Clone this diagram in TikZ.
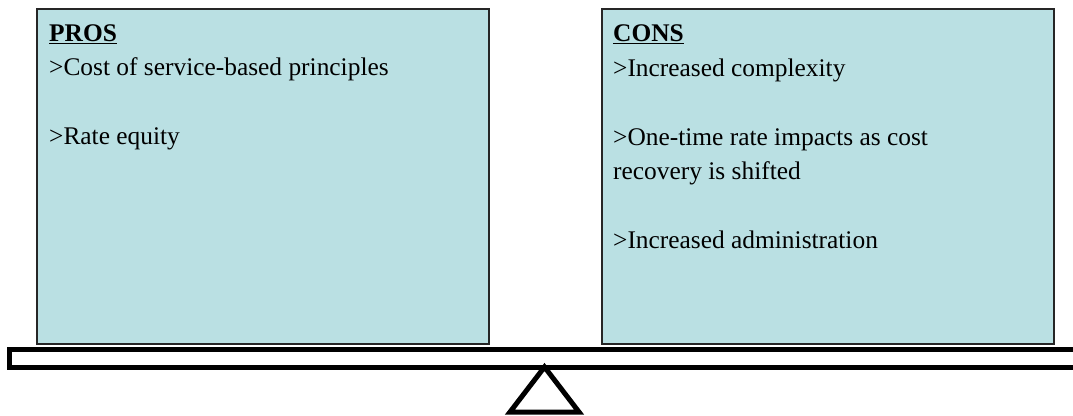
\documentclass[tikz,border=0pt]{standalone}
\usepackage{fontspec}
\setmainfont{Liberation Serif}
\usepackage{xcolor}
\usepackage{tikz}
\usetikzlibrary{calc,positioning}
\definecolor{boxblue}{RGB}{186,224,227}
\tikzset{
  listbox/.style={draw=black!85,line width=2pt,fill=boxblue,minimum width=452pt,minimum height=335pt,anchor=north west,inner sep=0pt},
  listtext/.style={anchor=base west,align=left,inner sep=0pt,font=\fontsize{25.4}{34.5}\selectfont},
  plank/.style={line width=5pt,draw=black,fill=white},
}
\begin{document}
\begin{tikzpicture}[x=1pt,y=1pt]
		\useasboundingbox (0,0) rectangle (1073,415);
		\node[listbox] (pros) at (36,407) {};
		\node[listbox] (cons) at (601,407) {};
		% text placed by its last baseline
		\node[listtext] (prostext) at (49,270) {\textbf{\underline{PROS}}\\>Cost of service-based principles\\[34.5pt]>Rate equity};
		\node[listtext] (constext) at (613,166) {\textbf{\underline{CONS}}\\>Increased complexity\\[34.5pt]>One-time rate impacts as cost\\recovery is shifted\\[34.5pt]>Increased administration};
		% beam and pivot
		\draw[plank] (9.5,65.5) rectangle (1090,47.5);
		\coordinate (top) at (544.5,48);
		\coordinate (bl) at (510,3);
		\coordinate (br) at (579,3);
		\draw[line width=5pt,line join=miter] (top) -- (bl) -- (br) -- cycle;
		\end{tikzpicture}
\end{document}
